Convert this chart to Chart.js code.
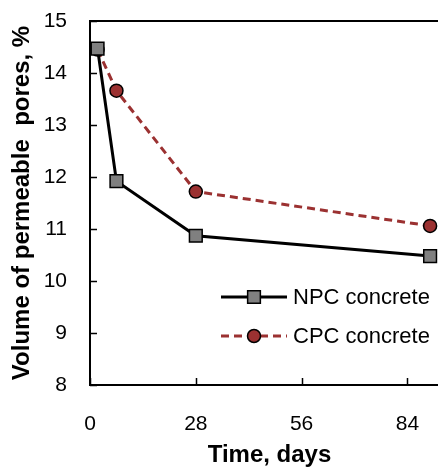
<!DOCTYPE html>
<html>
<head>
<meta charset="utf-8">
<script src="https://cdn.jsdelivr.net/npm/chart.js@4/dist/chart.umd.min.js"></script>
<style>
html,body{margin:0;padding:0;background:#fff;overflow:hidden;}
#wrap{width:438px;height:470px;overflow:hidden;}
canvas{display:block;}
</style>
</head>
<body>
<div id="wrap"><canvas id="c" width="480" height="470"></canvas></div>
<script>
const days = [2, 7, 28, 90];
const npcValues = [14.47, 11.92, 10.87, 10.48];
const cpcValues = [14.45, 13.66, 11.72, 11.06];
const xTickValues = [0, 28, 56, 84];
const seriesNames = ['NPC concrete', 'CPC concrete'];
const xTitle = 'Time, days';
const yTitle = 'Volume of permeable  pores, %';

const FONT = "'Liberation Sans', Arial, sans-serif";
const RED = '#9b3131';

const framePlugin = {
  id: 'frame',
  beforeDatasetsDraw(chart) {
    const ctx = chart.ctx, a = chart.chartArea;
    const xs = chart.scales.x, ys = chart.scales.y;
    ctx.save();
    ctx.strokeStyle = '#000';
    ctx.lineWidth = 2;
    ctx.strokeRect(a.left, a.top, a.right - a.left, a.bottom - a.top);
    ctx.lineWidth = 1.5;
    ctx.beginPath();
    xs.ticks.forEach(t => {
      const px = Math.round(xs.getPixelForValue(t.value)) + 0.5;
      ctx.moveTo(px, a.bottom); ctx.lineTo(px, a.bottom - 7);
    });
    ys.ticks.forEach(t => {
      const py = Math.round(ys.getPixelForValue(t.value)) + 0.5;
      ctx.moveTo(a.left, py); ctx.lineTo(a.left + 7, py);
    });
    ctx.stroke();
    ctx.restore();
  },
  afterDraw(chart) {
    const ctx = chart.ctx;
    const items = [
      {ds: chart.data.datasets[0], y: 297},
      {ds: chart.data.datasets[1], y: 336}
    ];
    ctx.save();
    items.forEach(it => {
      const ds = it.ds;
      ctx.strokeStyle = ds.borderColor;
      ctx.lineWidth = ds.borderWidth;
      ctx.setLineDash(ds.borderDash || []);
      ctx.beginPath();
      ctx.moveTo(221, it.y); ctx.lineTo(287, it.y);
      ctx.stroke();
      ctx.setLineDash([]);
      ctx.fillStyle = ds.pointBackgroundColor;
      ctx.strokeStyle = ds.pointBorderColor;
      ctx.lineWidth = ds.pointBorderWidth;
      const cx = 254, r = ds.pointRadius;
      ctx.beginPath();
      if (ds.pointStyle === 'rect') {
        const h = r / Math.SQRT2;
        ctx.rect(cx - h, it.y - h, 2 * h, 2 * h);
      } else {
        ctx.arc(cx, it.y, r, 0, Math.PI * 2);
      }
      ctx.fill(); ctx.stroke();
      ctx.fillStyle = '#000';
      ctx.font = '22px ' + FONT;
      ctx.textBaseline = 'middle';
      ctx.textAlign = 'left';
      ctx.fillText(ds.label, 293, it.y + 1);
    });
    ctx.restore();
  }
};

new Chart(document.getElementById('c'), {
  type: 'line',
  data: {
    datasets: [
      {
        label: seriesNames[0],
        data: days.map((d, i) => ({x: d, y: npcValues[i]})),
        borderColor: '#000',
        borderWidth: 3,
        pointStyle: 'rect',
        pointRadius: 9,
        pointBackgroundColor: '#808080',
        pointBorderColor: '#000',
        pointBorderWidth: 1.5,
        tension: 0
      },
      {
        label: seriesNames[1],
        data: days.map((d, i) => ({x: d, y: cpcValues[i]})),
        borderColor: RED,
        borderWidth: 3,
        borderDash: [8, 5],
        pointStyle: 'circle',
        pointRadius: 6.5,
        pointBackgroundColor: RED,
        pointBorderColor: '#000',
        pointBorderWidth: 1.5,
        tension: 0
      }
    ]
  },
  options: {
    responsive: false,
    devicePixelRatio: 1,
    animation: false,
    layout: {padding: {left: 0, top: 21, right: 31, bottom: 0}},
    plugins: {legend: {display: false}, tooltip: {enabled: false}},
    scales: {
      x: {
        type: 'linear',
        min: 0, max: 95,
        afterBuildTicks(s) { s.ticks = xTickValues.map(v => ({value: v})); },
        afterFit(s) { s.height = 85; s.paddingLeft = 0; s.paddingRight = 0; s.paddingTop = 0; s.paddingBottom = 0; },
        grid: {display: false, drawTicks: false},
        border: {display: false},
        ticks: {color: '#000', font: {family: FONT, size: 21}, padding: 27, maxRotation: 0},
        title: {display: true, text: xTitle, color: '#000', font: {family: FONT, size: 24, weight: 'bold'}, padding: {top: 0, bottom: 0}}
      },
      y: {
        min: 8, max: 15,
        afterFit(s) { s.width = 90; s.paddingTop = 0; s.paddingBottom = 0; s.paddingLeft = 0; s.paddingRight = 0; },
        grid: {display: false, drawTicks: false},
        border: {display: false},
        ticks: {stepSize: 1, color: '#000', font: {family: FONT, size: 21}, padding: 23},
        title: {display: true, text: yTitle, color: '#000', font: {family: FONT, size: 24, weight: 'bold'}, padding: {top: 8, bottom: 0}}
      }
    }
  },
  plugins: [framePlugin]
});
</script>
</body>
</html>
